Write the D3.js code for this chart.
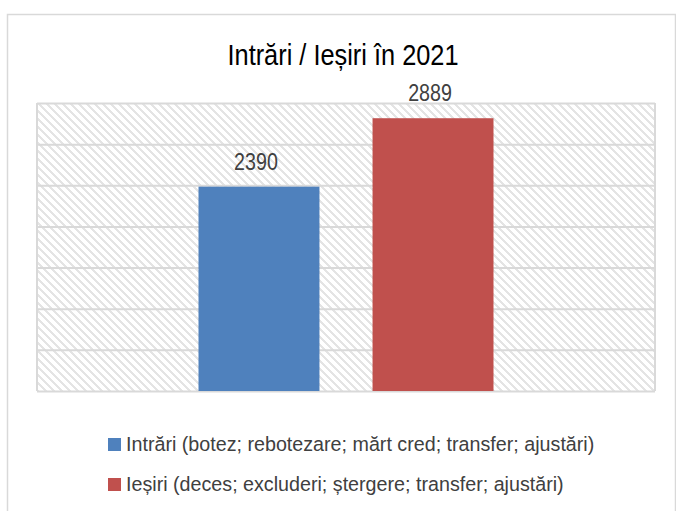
<!DOCTYPE html>
<html>
<head>
<meta charset="utf-8">
<script src="https://cdn.jsdelivr.net/npm/d3@7"></script>
<style>
  body { margin: 0; background: #fff; }
  svg text { font-family: "Liberation Sans", Arial, sans-serif; }
</style>
</head>
<body>
<div id="chart"></div>
<script>
// values
var titleText = "Intrări / Ieșiri în 2021";
var seriesNames = [
  "Intrări (botez; rebotezare; mărt cred; transfer; ajustări)",
  "Ieșiri (deces; excluderi; ștergere; transfer; ajustări)"
];
var seriesValues = [2390, 2889];
var seriesColors = ["#4f81bd", "#c0504d"];
var axisTicks = [900, 1200, 1500, 1800, 2100, 2400, 2700, 3000];

var width = 676, height = 511;
var plot = { left: 37, right: 655, top: 103, bottom: 391 };

var svg = d3.select("#chart").append("svg")
    .attr("width", width)
    .attr("height", height);

// hatch like excel "wide downward diagonal"
var pat = svg.append("defs").append("pattern")
    .attr("id", "hatch")
    .attr("patternUnits", "userSpaceOnUse")
    .attr("width", 8).attr("height", 8)
    .attr("x", plot.left).attr("y", plot.top);
pat.append("rect").attr("width", 8).attr("height", 8).attr("fill", "#fff");
d3.range(8).forEach(function(row) {
    [0, 1, 2].forEach(function(k) {
        pat.append("rect")
            .attr("x", (row + k) % 8).attr("y", row)
            .attr("width", 1).attr("height", 1)
            .attr("fill", "#e4e4e4");
    });
});

// chart area border
svg.append("rect")
    .attr("x", 7.5).attr("y", 14.5)
    .attr("width", 668).attr("height", 520)
    .attr("fill", "none")
    .attr("stroke", "#d9d9d9")
    .attr("stroke-width", 1.5);

var y = d3.scaleLinear()
    .domain([axisTicks[0], axisTicks[axisTicks.length - 1]])
    .range([plot.bottom, plot.top]);

var x = d3.scaleBand()
    .domain(seriesNames)
    .range([plot.left, plot.right])
    .paddingInner(0.305)
    .paddingOuter(0.928);

svg.append("rect")
    .attr("x", plot.left).attr("y", plot.top)
    .attr("width", plot.right - plot.left)
    .attr("height", plot.bottom - plot.top)
    .attr("fill", "url(#hatch)");

// gridlines
svg.append("g")
    .attr("transform", "translate(" + plot.left + ",0)")
    .call(d3.axisLeft(y).tickValues(axisTicks)
        .tickSize(-(plot.right - plot.left)).tickFormat(""))
    .call(function(g) {
        g.select(".domain").remove();
        g.selectAll("line").attr("stroke", "#d9d9d9").attr("stroke-width", 2);
    });

// plot side borders
svg.append("g").selectAll("line")
    .data([plot.left, plot.right])
    .enter().append("line")
    .attr("x1", function(d) { return d; }).attr("x2", function(d) { return d; })
    .attr("y1", plot.top).attr("y2", plot.bottom)
    .attr("stroke", "#d9d9d9").attr("stroke-width", 2);

svg.append("g").selectAll("rect")
    .data(seriesValues)
    .enter().append("rect")
    .attr("x", function(d, i) { return x(seriesNames[i]); })
    .attr("y", function(d) { return y(d); })
    .attr("width", x.bandwidth())
    .attr("height", function(d) { return plot.bottom - y(d); })
    .attr("fill", function(d, i) { return seriesColors[i]; });

// title and labels are in a narrow face; squeeze Liberation Sans
function at(px, py, sx) {
    return "translate(" + px + "," + py + ") scale(" + sx + ",1)";
}

svg.append("g").selectAll("text")
    .data(seriesValues)
    .enter().append("text")
    .attr("transform", function(d, i) {
        return at(x(seriesNames[i]) + x.bandwidth() / 2 - 3, y(d) - 17, 0.82);
    })
    .attr("text-anchor", "middle")
    .attr("font-size", 24)
    .attr("fill", "#404040")
    .text(function(d) { return d; });

svg.append("text")
    .attr("transform", at(343, 65, 0.845))
    .attr("text-anchor", "middle")
    .attr("font-size", 30)
    .attr("fill", "#000")
    .text(titleText);

// legend
var legend = svg.append("g").selectAll("g")
    .data(seriesNames)
    .enter().append("g")
    .attr("transform", function(d, i) { return "translate(108," + (451 + i * 40) + ")"; });

legend.append("rect")
    .attr("x", 0).attr("y", -13)
    .attr("width", 13).attr("height", 13)
    .attr("fill", function(d, i) { return seriesColors[i]; });

legend.append("text")
    .attr("x", 18).attr("y", 0)
    .attr("font-size", 19.7)
    .attr("fill", "#404040")
    .text(function(d) { return d; });
</script>
</body>
</html>
